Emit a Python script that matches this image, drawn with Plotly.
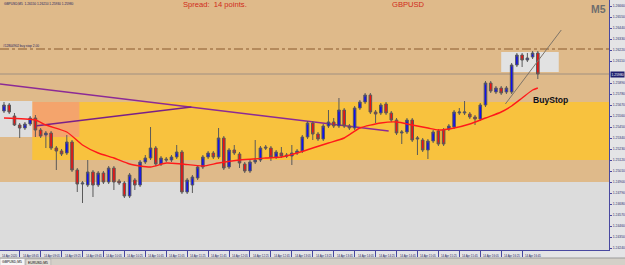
import pandas as pd
import plotly.graph_objects as go

# ---------------- data ----------------
start_time = "2020-04-14 08:30"
opens = [1.2561,1.2567,1.2556,1.2547,1.2544,1.2548,1.2554,1.2542,1.2537,1.2539,
         1.2524,1.2521,1.2519,1.2530,1.2502,1.2488,1.2487,1.2500,1.2487,1.2499,
         1.2490,1.2504,1.2491,1.2489,1.2476,1.2492,1.2487,1.2510,1.2514,1.2524,
         1.2508,1.2513,1.2512,1.2515,1.2520,1.2480,1.2487,1.2494,1.2505,1.2515,
         1.2519,1.2515,1.2534,1.2505,1.2522,1.2518,1.2508,1.2501,1.2510,1.2512,
         1.2525,1.2524,1.2515,1.2519,1.2517,1.2516,1.2519,1.2521,1.2535,1.2549,
         1.2538,1.2533,1.2546,1.2550,1.2546,1.2562,1.2546,1.2544,1.2564,1.2570,
         1.2577,1.2560,1.2559,1.2568,1.2559,1.2552,1.2539,1.2540,1.2552,1.2533,
         1.2532,1.2522,1.2531,1.2541,1.2542,1.2543,1.2545,1.2559,1.2559,1.2558,
         1.2555,1.2553,1.2567,1.2589,1.2580,1.2584,1.2580,1.2580,1.2607,1.2617,
         1.2612,1.2615,1.2619]
closes = [1.2567,1.2560,1.2547,1.2544,1.2548,1.2554,1.2542,1.2536,1.2539,1.2524,
          1.2521,1.2518,1.2530,1.2502,1.2488,1.2489,1.2500,1.2487,1.2499,1.2490,
          1.2504,1.2490,1.2489,1.2476,1.2497,1.2487,1.2510,1.2514,1.2524,1.2508,
          1.2514,1.2512,1.2515,1.2520,1.2480,1.2492,1.2495,1.2505,1.2515,1.2519,
          1.2515,1.2534,1.2504,1.2522,1.2519,1.2509,1.2501,1.2510,1.2512,1.2524,
          1.2524,1.2515,1.2520,1.2516,1.2516,1.2519,1.2521,1.2535,1.2549,1.2538,
          1.2533,1.2546,1.2550,1.2546,1.2562,1.2546,1.2544,1.2564,1.2570,1.2577,
          1.2560,1.2558,1.2567,1.2559,1.2552,1.2539,1.2540,1.2552,1.2532,1.2534,
          1.2522,1.2531,1.2540,1.2528,1.2528,1.2546,1.2560,1.2560,1.2560,1.2555,
          1.2553,1.2567,1.2589,1.2581,1.2584,1.2579,1.2584,1.2607,1.2617,1.2612,
          1.2614,1.2619,1.2598]
highs = [1.2570,1.2569,1.2559,1.2549,1.2550,1.2556,1.2557,1.2544,1.2541,1.2541,
         1.2526,1.2523,1.2537,1.2532,1.2504,1.2491,1.2512,1.2502,1.2501,1.2501,
         1.2506,1.2506,1.2493,1.2491,1.2499,1.2494,1.2512,1.2517,1.2545,1.2526,
         1.2516,1.2515,1.2517,1.2527,1.2522,1.2494,1.2497,1.2507,1.2517,1.2521,
         1.2521,1.2544,1.2536,1.2524,1.2527,1.2520,1.2510,1.2512,1.2532,1.2526,
         1.2527,1.2526,1.2522,1.2525,1.2519,1.2527,1.2523,1.2537,1.2551,1.2551,
         1.2540,1.2548,1.2562,1.2554,1.2574,1.2564,1.2548,1.2566,1.2572,1.2579,
         1.2579,1.2562,1.2569,1.2570,1.2561,1.2554,1.2542,1.2554,1.2554,1.2536,
         1.2534,1.2533,1.2542,1.2543,1.2544,1.2548,1.2562,1.2564,1.2571,1.2560,
         1.2557,1.2569,1.2591,1.2591,1.2586,1.2586,1.2586,1.2609,1.2619,1.2619,
         1.2619,1.2621,1.2621]
lows = [1.2559,1.2558,1.2546,1.2534,1.2542,1.2546,1.2535,1.2534,1.2524,1.2522,
        1.2502,1.2516,1.2517,1.2500,1.2480,1.2469,1.2485,1.2475,1.2485,1.2488,
        1.2488,1.2482,1.2487,1.2474,1.2474,1.2482,1.2485,1.2508,1.2512,1.2506,
        1.2506,1.2510,1.2510,1.2513,1.2478,1.2478,1.2479,1.2492,1.2503,1.2513,
        1.2513,1.2513,1.2502,1.2503,1.2517,1.2504,1.2499,1.2499,1.2508,1.2510,
        1.2522,1.2511,1.2513,1.2514,1.2514,1.2507,1.2517,1.2519,1.2533,1.2532,
        1.2531,1.2531,1.2544,1.2544,1.2544,1.2544,1.2542,1.2542,1.2562,1.2568,
        1.2558,1.2549,1.2557,1.2557,1.2550,1.2537,1.2528,1.2538,1.2530,1.2517,
        1.2520,1.2513,1.2529,1.2526,1.2526,1.2541,1.2543,1.2557,1.2557,1.2553,
        1.2547,1.2551,1.2565,1.2579,1.2578,1.2577,1.2578,1.2578,1.2605,1.2605,
        1.2610,1.2613,1.2593]

# moving average line, read at some candles
ma_idx = [0,6,8,12,15,18,21,24,28,31,34,38,41,45,50,53,56,59,62,65,
          68,72,75,78,81,83,86,89,92,95,97,99,101,102]
ma_vals = [1.2554,1.2552,1.2547,1.2540,1.2527,1.2519,1.2514,1.2508,1.2505,1.2509,
           1.2508,1.2506,1.2509,1.2512,1.2514,1.2515,1.2519,1.2524,1.2529,1.2534,
           1.2544,1.2549,1.2550,1.2547,1.2544,1.2542,1.2544,1.2548,1.2554,1.2560,
           1.2566,1.2574,1.2582,1.2584]

price_ticks = [1.2666,1.2655,1.2644,1.2633,1.2622,1.2611,1.2589,1.2578,1.2567,
               1.2556,1.2545,1.2534,1.2523,1.2512,1.2501,1.2490,1.2479,1.2468,1.2457,
               1.2446,1.2435,1.2424]
time_labels = ["14 Apr 08:45","14 Apr 09:05","14 Apr 09:25","14 Apr 09:45","14 Apr 10:05",
               "14 Apr 10:25","14 Apr 10:45","14 Apr 11:05","14 Apr 11:25","14 Apr 11:45",
               "14 Apr 12:05","14 Apr 12:25","14 Apr 12:45","14 Apr 13:05","14 Apr 13:25",
               "14 Apr 13:45","14 Apr 14:05","14 Apr 14:25","14 Apr 14:45","14 Apr 15:05",
               "14 Apr 15:25","14 Apr 15:45","14 Apr 16:05","14 Apr 16:25","14 Apr 16:45"]

# zones / drawn objects (price levels)
buy_stop_level = 1.2623
bid_level = 1.2598
pivot_level = 1.2544
zone_top, zone_bottom = 1.2570, 1.2512
lower_zone_top = 1.2490

# ---------------- figure ----------------
times = pd.date_range(start_time, periods=len(opens), freq="5min")
tick_times = [pd.Timestamp("2020-04-14 " + t.split(" ")[2]) for t in time_labels]

x_min = pd.Timestamp("2020-04-14 08:26:11")
x_max = pd.Timestamp("2020-04-14 18:08:00")
y_min, y_max = 1.2422, 1.2672
W = 611.0   # plot width in px
H = 250.0   # plot height in px

def px(p):
    return p / W

def py(p):
    return (H - p) / H

fig = go.Figure()

fig.add_trace(go.Candlestick(
    x=times, open=opens, high=highs, low=lows, close=closes,
    increasing=dict(fillcolor="#1010F0", line=dict(color="#5A5A5A", width=1)),
    decreasing=dict(fillcolor="#F01010", line=dict(color="#5A5A5A", width=1)),
    whiskerwidth=0, showlegend=False, hoverinfo="skip"))

fig.add_trace(go.Scatter(
    x=[times[i] for i in ma_idx], y=ma_vals, mode="lines",
    line=dict(color="#FF1A1A", width=1.4, shape="spline", smoothing=0.6),
    showlegend=False, hoverinfo="skip"))

shapes = []
shapes.append(dict(type="rect", xref="paper", yref="y", x0=0, x1=1, y0=y_min, y1=lower_zone_top,
                   fillcolor="#DCDCDC", line_width=0, layer="below"))
shapes.append(dict(type="rect", xref="x", yref="y", x0="2020-04-14 08:57", x1=x_max,
                   y0=zone_bottom, y1=zone_top, fillcolor="#F8C23E", line_width=0, layer="below"))
shapes.append(dict(type="rect", xref="x", yref="y", x0="2020-04-14 08:57", x1="2020-04-14 09:42",
                   y0=1.2535, y1=zone_top, fillcolor="#F4A46C", line_width=0, layer="below"))
shapes.append(dict(type="rect", xref="x", yref="y", x0=x_min, x1="2020-04-14 08:57",
                   y0=1.2535, y1=1.2571, fillcolor="#DEDEDE", line_width=0, layer="below"))
shapes.append(dict(type="rect", xref="x", yref="y", x0="2020-04-14 16:25", x1="2020-04-14 17:20",
                   y0=1.2600, y1=1.2620, fillcolor="#E2E2E2", line_width=0, layer="below"))
shapes.append(dict(type="line", xref="paper", yref="y", x0=0, x1=1, y0=buy_stop_level, y1=buy_stop_level,
                   line=dict(color="#8A5A2E", width=1, dash="dashdot"), layer="below"))
shapes.append(dict(type="line", xref="paper", yref="y", x0=0, x1=1, y0=bid_level, y1=bid_level,
                   line=dict(color="#A09080", width=1), layer="below"))
shapes.append(dict(type="line", xref="paper", yref="y", x0=0, x1=1, y0=pivot_level, y1=pivot_level,
                   line=dict(color="#F27A6A", width=1), layer="below"))
shapes.append(dict(type="line", xref="x", yref="y", x0=x_min, y0=1.2588,
                   x1="2020-04-14 14:37:30", y1=1.2541, line=dict(color="#8C2A96", width=1.5), layer="below"))
shapes.append(dict(type="line", xref="x", yref="y", x0="2020-04-14 08:59:30", y0=1.2546,
                   x1="2020-04-14 11:29", y1=1.2565, line=dict(color="#7A2088", width=1.5), layer="below"))
shapes.append(dict(type="line", xref="x", yref="y", x0="2020-04-14 16:29", y0=1.2568,
                   x1="2020-04-14 17:22:24", y1=1.2642, line=dict(color="#7E7468", width=1)))
shapes.append(dict(type="path", xref="x", yref="y",
                   path="M 2020-04-14 16:53:48,1.2594 L 2020-04-14 16:57:30,1.2586 L 2020-04-14 17:01:30,1.2596",
                   line=dict(color="#222222", width=1)))
# bottom tab bar
shapes.append(dict(type="rect", xref="paper", yref="paper", x0=-0.01, x1=1.05, y0=py(266), y1=py(258),
                   fillcolor="#D4D0C8", line_width=0))
shapes.append(dict(type="line", xref="paper", yref="paper", x0=-0.01, x1=1.05, y0=py(258), y1=py(258),
                   line=dict(color="#9A9A9A", width=1)))
shapes.append(dict(type="rect", xref="paper", yref="paper", x0=0, x1=px(25), y0=py(266), y1=py(258.5),
                   fillcolor="#F6F6F6", line=dict(color="#A0A0A0", width=0.5)))
shapes.append(dict(type="rect", xref="paper", yref="paper", x0=px(26), x1=px(51), y0=py(266), y1=py(259),
                   fillcolor="#E2DED6", line=dict(color="#A0A0A0", width=0.5)))

annotations = []
tiny = dict(family="Arial", size=3.2, color="#202060")
annotations.append(dict(text="GBPUSD,M5  1.26150 1.26210 1.25930 1.25980", xref="paper", yref="paper",
                        x=px(2), y=1, xanchor="left", yanchor="top", showarrow=False, font=tiny))
annotations.append(dict(text="#12804902 buy stop 2.00", xref="paper", yref="y", x=px(1), y=buy_stop_level,
                        xanchor="left", yanchor="bottom", showarrow=False, font=tiny, yshift=-1))
annotations.append(dict(text="Spread:  14 points.", xref="paper", yref="paper", x=px(182), y=1,
                        xanchor="left", yanchor="top", showarrow=False,
                        font=dict(family="Arial", size=7.6, color="#D02A1A"), yshift=2))
annotations.append(dict(text="GBPUSD", xref="paper", yref="paper", x=px(391), y=1,
                        xanchor="left", yanchor="top", showarrow=False,
                        font=dict(family="Arial", size=7.6, color="#D02A1A"), yshift=2))
annotations.append(dict(text="<b>M5</b>", xref="paper", yref="paper", x=px(610), y=1,
                        xanchor="right", yanchor="top", showarrow=False,
                        font=dict(family="Arial", size=10.5, color="#6E6E6E"), yshift=-1))
annotations.append(dict(text="<b>BuyStop</b>", xref="x", yref="y", x="2020-04-14 16:53", y=1.2572,
                        xanchor="left", yanchor="middle", showarrow=False,
                        font=dict(family="Arial", size=8.6, color="#111111")))
annotations.append(dict(text=f"{bid_level:.5f}", xref="paper", yref="y", x=1.0, y=bid_level,
                        xanchor="left", yanchor="middle", showarrow=False, xshift=1,
                        font=dict(family="Arial", size=3.4, color="white"), bgcolor="#1E1E6E",
                        borderpad=0.5))
for t, lab in zip(tick_times, time_labels):
    annotations.append(dict(text=lab, xref="x", yref="paper", x=t, y=py(251.5), xanchor="left",
                            yanchor="top", showarrow=False, xshift=1, font=dict(tiny, size=2.8)))
annotations.append(dict(text="14 Apr 2020", xref="paper", yref="paper", x=0, y=py(251.5),
                        xanchor="left", yanchor="top", showarrow=False, font=dict(tiny, size=2.8)))
annotations.append(dict(text="GBPUSD,M5", xref="paper", yref="paper", x=px(12.5), y=py(262),
                        xanchor="center", yanchor="middle", showarrow=False,
                        font=dict(family="Arial", size=3.4, color="#000000")))
annotations.append(dict(text="EURUSD,M5", xref="paper", yref="paper", x=px(38.5), y=py(262.5),
                        xanchor="center", yanchor="middle", showarrow=False,
                        font=dict(family="Arial", size=3.4, color="#000000")))

fig.update_layout(
    width=625, height=265,
    margin=dict(l=0, r=14, t=0, b=15),
    paper_bgcolor="#E4E4E6",
    plot_bgcolor="#DFBA8A",
    shapes=shapes, annotations=annotations,
    showlegend=False,
    xaxis=dict(type="date", range=[x_min, x_max], rangeslider=dict(visible=False),
               showgrid=False, zeroline=False, showline=True, linecolor="#4848A0", linewidth=1,
               tickmode="array", tickvals=tick_times, ticks="outside", ticklen=6,
               tickcolor="#4848A0", tickwidth=1, showticklabels=False),
    yaxis=dict(range=[y_min, y_max], side="right", showgrid=False, zeroline=False,
               showline=True, linecolor="#4848A0", linewidth=1,
               tickmode="array", tickvals=price_ticks, ticktext=[f"{v:.5f}" for v in price_ticks],
               ticks="outside", ticklen=2, tickcolor="#4848A0",
               tickfont=dict(family="Arial", size=3.4, color="#303070")),
)

fig.write_html("out.html")
